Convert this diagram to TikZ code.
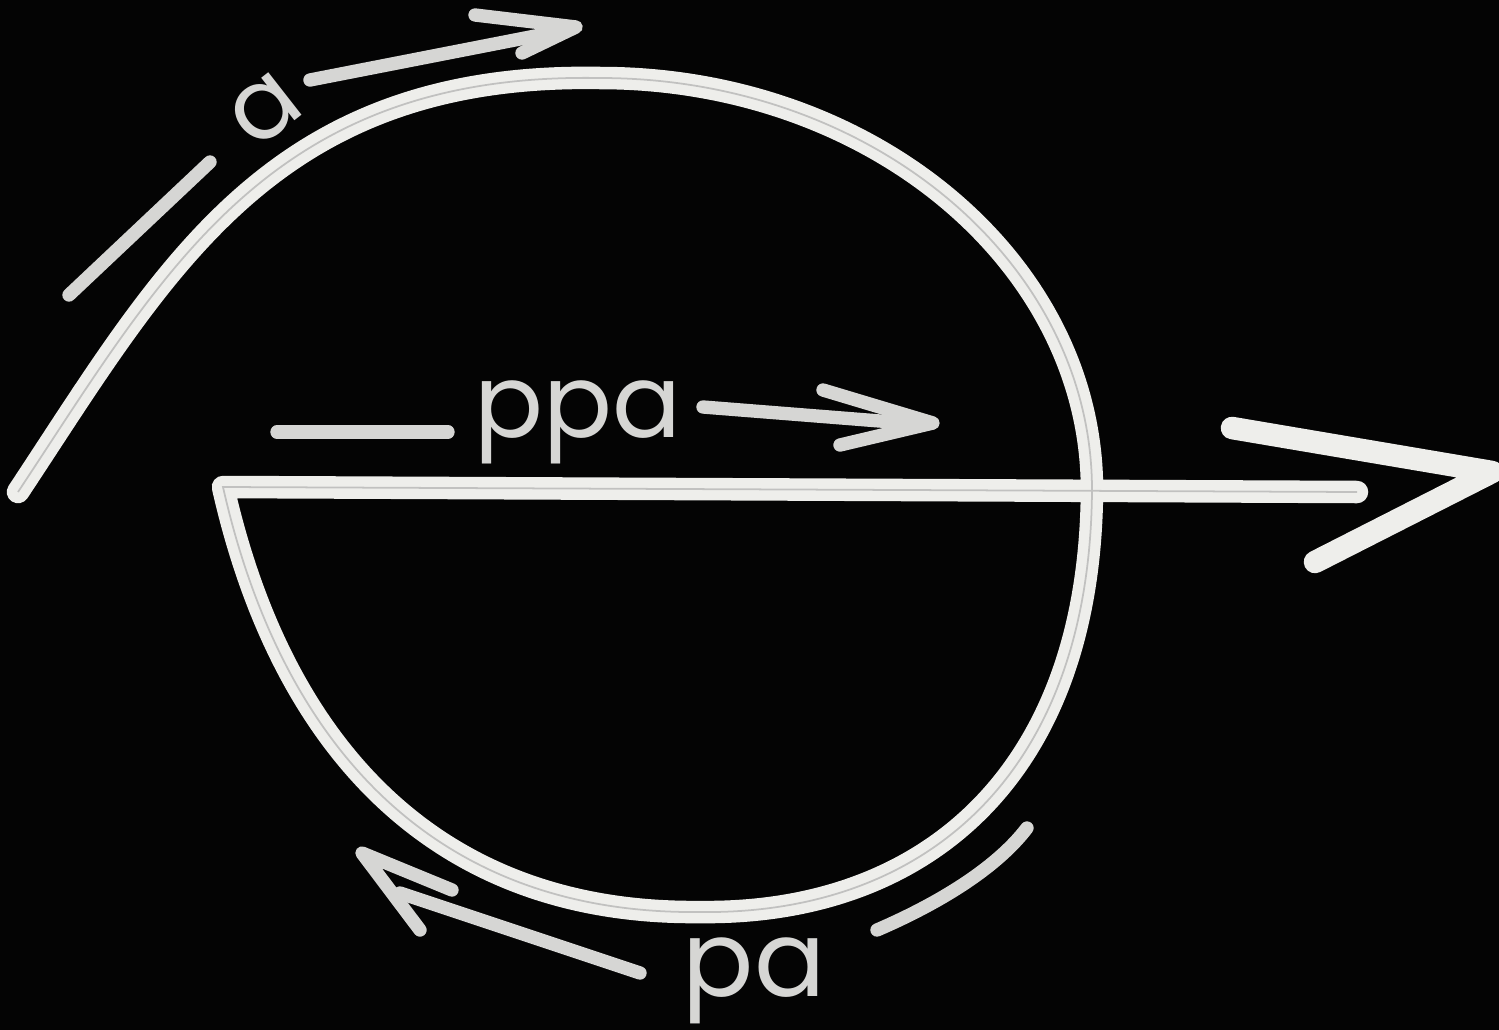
\documentclass[tikz,border=0pt]{standalone}
\usepackage{fontspec}
\setmainfont{Poppins}
\definecolor{board}{RGB}{4,4,4}
\definecolor{chalk}{RGB}{238,238,235}
\definecolor{chalkdim}{RGB}{214,214,212}
\definecolor{streak}{RGB}{150,150,150}
\begin{document}
\begin{tikzpicture}[x=0.01cm,y=-0.01cm,
  mainline/.style={draw=chalk,line width=6.4pt,line cap=round,line join=round},
  streakline/.style={draw=streak,line width=0.5pt,opacity=0.5},
  labelline/.style={draw=chalkdim,line width=3.8pt,line cap=round,line join=round},
  lbl/.style={text=chalkdim,inner sep=0pt}]
\fill[board] (0,0) rectangle (1499,1030);
\useasboundingbox (0,0) rectangle (1499,1030);
% spiral and through-line
\def\spiral{(18,492) .. controls (165,270) and (270,72) .. (600,78)
  arc[start angle=-90,end angle=0,x radius=492,y radius=412]
  .. controls (1090,780) and (920,915) .. (700,912)
  .. controls (430,915) and (280,740) .. (223,487) -- (1357,492)}
\path[mainline] \spiral;
\path[streakline] \spiral;
% big arrowhead
\draw[mainline] (1232,428) -- (1492,472) -- (1315,562);
% label a
\draw[labelline] (69,295) -- (210,162);
\node[lbl,rotate=38,font=\fontsize{28}{30}\selectfont] (la) at (265,110) {a};
\draw[labelline] (310,80) -- (566,30);
\draw[labelline] (475,15) -- (576,27) -- (522,53);
% label ppa
\draw[labelline] (277,432) -- (448,432);
\node[lbl,anchor=base,font=\fontsize{29}{31}\selectfont] (lppa) at (578,437) {ppa};
\draw[labelline] (703,407) -- (905,423);
\draw[labelline] (823,390) -- (933,423) -- (840,445);
% label pa
\draw[labelline] (640,973) -- (400,893);
\draw[labelline] (452,890) -- (362,853) -- (420,930);
\node[lbl,anchor=base,font=\fontsize{30}{32}\selectfont] (lpa) at (754,996) {pa};
\draw[labelline] (877,930) .. controls (935,905) and (995,870) .. (1027,828);
\end{tikzpicture}
\end{document}
